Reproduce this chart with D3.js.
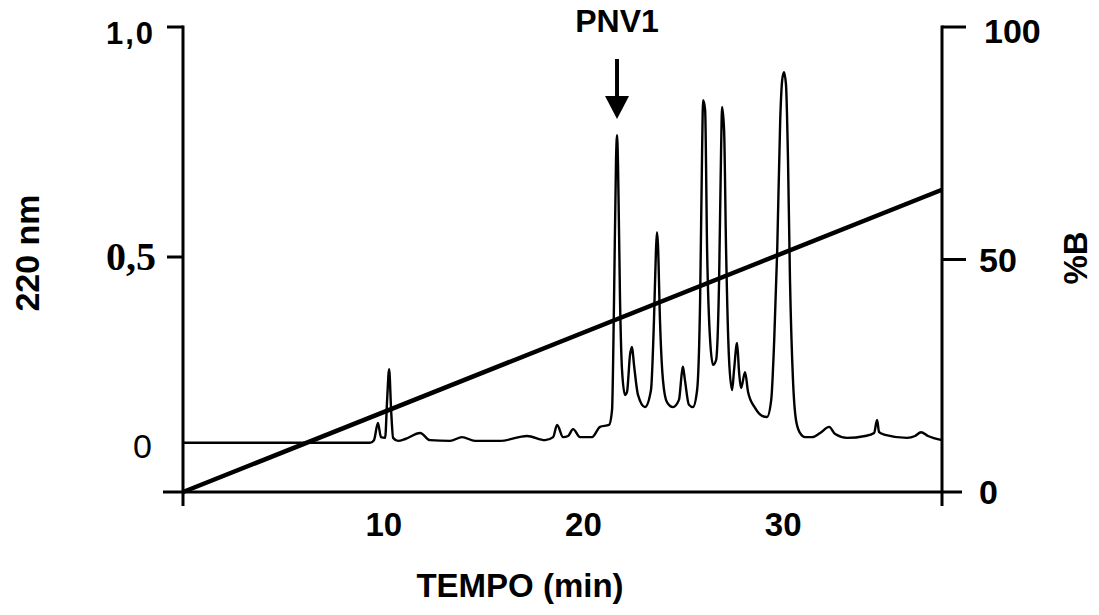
<!DOCTYPE html>
<html>
<head>
<meta charset="utf-8">
<script src="https://cdn.jsdelivr.net/npm/d3@7/dist/d3.min.js"></script>
<style>
  html, body { margin: 0; padding: 0; background: #fff; }
  svg { display: block; }
  text { font-family: "Liberation Sans", Arial, sans-serif; font-weight: bold; fill: #000; }
</style>
</head>
<body>
<svg id="chart" width="1099" height="615"></svg>
<script>
// ---- data ----
const timeMin = [0, 5.86, 9.36, 9.56, 9.76, 9.91, 10.12, 10.22, 10.32, 10.42, 10.52, 10.77, 11.13, 11.87, 12.37, 13.37, 13.97, 14.62, 15.87, 17.23, 18.13, 18.53, 18.73, 19.03, 19.28, 19.53, 19.88, 20.48, 20.88, 21.33, 21.48, 21.58, 21.68, 21.73, 21.78, 21.88, 21.98, 22.13, 22.23, 22.38, 22.48, 22.58, 22.78, 23.13, 23.43, 23.58, 23.68, 23.73, 23.78, 23.88, 24.03, 24.23, 24.53, 24.83, 24.98, 25.03, 25.13, 25.33, 25.53, 25.74, 25.89, 25.99, 26.04, 26.14, 26.24, 26.39, 26.54, 26.69, 26.84, 26.94, 26.99, 27.09, 27.19, 27.34, 27.49, 27.59, 27.74, 27.84, 27.94, 28.14, 28.29, 28.64, 28.99, 29.24, 29.45, 29.6, 29.75, 29.9, 30.0, 30.09, 30.19, 30.29, 30.39, 30.54, 30.69, 30.89, 31.14, 31.49, 31.9, 32.35, 32.65, 33.25, 34.15, 34.6, 34.75, 34.85, 35.15, 36.25, 36.65, 36.95, 37.3, 38.0];
const absorbance220 = [0.011, 0.011, 0.011, 0.018, 0.063, 0.026, 0.024, 0.124, 0.205, 0.097, 0.024, 0.016, 0.021, 0.037, 0.018, 0.016, 0.026, 0.016, 0.016, 0.029, 0.018, 0.026, 0.058, 0.026, 0.029, 0.047, 0.026, 0.026, 0.053, 0.058, 0.097, 0.387, 0.711, 0.765, 0.70, 0.387, 0.203, 0.137, 0.145, 0.242, 0.263, 0.216, 0.137, 0.105, 0.15, 0.334, 0.515, 0.554, 0.526, 0.334, 0.176, 0.118, 0.105, 0.124, 0.197, 0.211, 0.176, 0.111, 0.105, 0.15, 0.387, 0.733, 0.841, 0.820, 0.515, 0.282, 0.216, 0.229, 0.439, 0.733, 0.826, 0.776, 0.515, 0.229, 0.15, 0.203, 0.274, 0.197, 0.155, 0.197, 0.145, 0.103, 0.082, 0.079, 0.124, 0.282, 0.515, 0.798, 0.885, 0.902, 0.874, 0.711, 0.439, 0.176, 0.071, 0.037, 0.026, 0.026, 0.037, 0.053, 0.034, 0.024, 0.029, 0.037, 0.071, 0.039, 0.032, 0.024, 0.029, 0.039, 0.029, 0.018];
const gradientTime = [0, 38];
const gradientB = [0, 65];
const xTicks = [10, 20, 30];
const xTickLabels = ["10", "20", "30"];
const leftTicks = [0, 0.5, 1.0];
const leftTickLabels = ["0", "0,5", "1,0"];
const rightTicks = [0, 50, 100];
const rightTickLabels = ["0", "50", "100"];
const peakLabel = "PNV1";
const peakTime = 21.73;
const xTitle = "TEMPO (min)";
const leftTitle = "220 nm";
const rightTitle = "%B";

// ---- scales ----
const svg = d3.select("#chart");
const x = d3.scaleLinear().domain([0, 38]).range([183, 942]);
const yA = d3.scaleLinear().domain([-0.12, 0, 0.5, 1.0]).range([492, 447, 257, 27]);
const yB = d3.scaleLinear().domain([0, 100]).range([492, 27]);

// ---- axes lines ----
const axisStroke = 3;
svg.append("line").attr("x1", 163).attr("x2", 962).attr("y1", yB(0)).attr("y2", yB(0))
  .attr("stroke", "#000").attr("stroke-width", axisStroke);
svg.append("line").attr("x1", x(0)).attr("x2", x(0)).attr("y1", yA(1.0) - 1.5).attr("y2", 506)
  .attr("stroke", "#000").attr("stroke-width", axisStroke);
svg.append("line").attr("x1", x(38)).attr("x2", x(38)).attr("y1", yB(100) - 1.5).attr("y2", 506)
  .attr("stroke", "#000").attr("stroke-width", axisStroke);

// left ticks and labels
leftTicks.forEach((v, i) => {
  if (v > 0) {
    svg.append("line").attr("x1", x(0) - 16).attr("x2", x(0)).attr("y1", yA(v)).attr("y2", yA(v))
      .attr("stroke", "#000").attr("stroke-width", axisStroke);
  }
  const t = svg.append("text").attr("text-anchor", "end").text(leftTickLabels[i]);
  if (v === 1.0) {
    t.attr("x", 155).attr("y", yA(v) + 6).attr("dy", "0.36em").style("font-size", "31px")
      .style("letter-spacing", "2px");
  } else if (v === 0.5) {
    t.attr("x", 156).attr("y", yA(v)).attr("dy", "0.33em").style("font-size", "40px")
      .style("font-family", "'Liberation Serif', 'Times New Roman', serif");
  } else {
    t.attr("x", 152).attr("y", yA(v) - 1).attr("dy", "0.36em").style("font-size", "34px")
      .style("font-weight", "normal");
  }
});

// right ticks and labels
rightTicks.forEach((v, i) => {
  if (v > 0) {
    svg.append("line").attr("x1", x(38)).attr("x2", x(38) + 24).attr("y1", yB(v)).attr("y2", yB(v))
      .attr("stroke", "#000").attr("stroke-width", axisStroke);
  }
  svg.append("text").attr("x", v === 100 ? 984 : 979).attr("y", yB(v) + (v === 100 ? 4 : 0)).attr("dy", "0.36em")
    .attr("text-anchor", "start").style("font-size", "34px").text(rightTickLabels[i]);
});

// x tick labels
xTicks.forEach((v, i) => {
  svg.append("text").attr("x", x(v) + 1).attr("y", 524).attr("dy", "0.36em")
    .attr("text-anchor", "middle").style("font-size", "33px").text(xTickLabels[i]);
});

// titles
svg.append("text").attr("x", 520).attr("y", 585).attr("dy", "0.36em").attr("text-anchor", "middle")
  .style("font-size", "33px").text(xTitle);
svg.append("text").attr("transform", "translate(27,253) rotate(-90)").attr("dy", "0.36em")
  .attr("text-anchor", "middle").style("font-size", "34px").text(leftTitle);
svg.append("text").attr("transform", "translate(1075,258) rotate(-90)").attr("dy", "0.36em")
  .attr("text-anchor", "middle").style("font-size", "33px").text(rightTitle);

// ---- chromatogram ----
const pts = timeMin.map((t, i) => [t, absorbance220[i]]);
const line = d3.line().x(d => x(d[0])).y(d => yA(d[1])).curve(d3.curveMonotoneX);
svg.append("path").datum(pts).attr("d", line)
  .attr("fill", "none").attr("stroke", "#000").attr("stroke-width", 2.4).attr("stroke-linejoin", "round");

// ---- gradient ----
const gpts = gradientTime.map((t, i) => [t, gradientB[i]]);
svg.append("path").datum(gpts)
  .attr("d", d3.line().x(d => x(d[0])).y(d => yB(d[1])))
  .attr("fill", "none").attr("stroke", "#000").attr("stroke-width", 4.5);

// ---- peak annotation ----
const px = x(peakTime);
svg.append("text").attr("x", px).attr("y", 20).attr("dy", "0.36em").attr("text-anchor", "middle")
  .style("font-size", "32px").text(peakLabel);
svg.append("line").attr("x1", px).attr("x2", px).attr("y1", 59).attr("y2", 100)
  .attr("stroke", "#000").attr("stroke-width", 4);
svg.append("path")
  .attr("d", `M${px - 12},96 L${px + 12},96 L${px},119 Z`)
  .attr("fill", "#000");
</script>
</body>
</html>
